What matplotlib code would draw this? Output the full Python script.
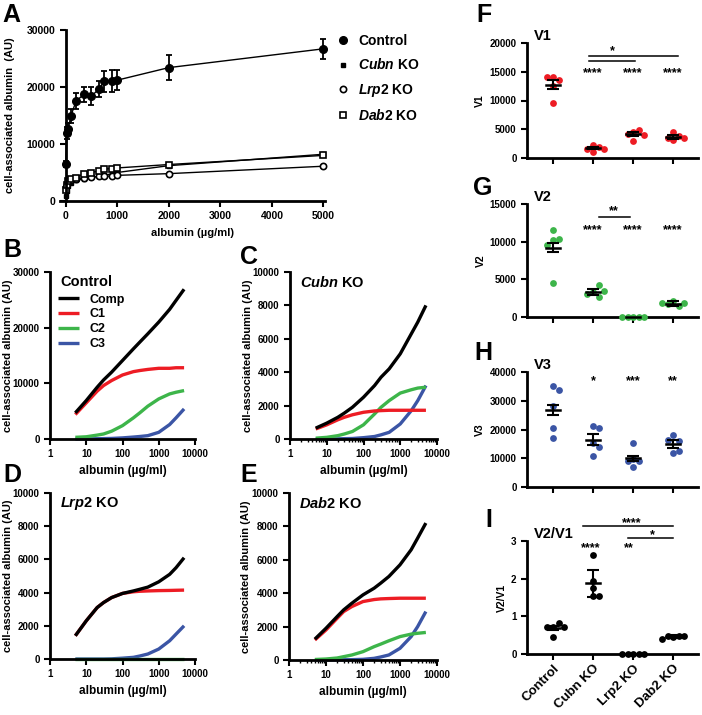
import matplotlib
matplotlib.use("Agg")
import matplotlib.pyplot as plt
import numpy as np
from matplotlib.lines import Line2D

plt.rcParams["font.family"] = ["Liberation Sans", "DejaVu Sans"]
plt.rcParams["font.weight"] = "bold"
plt.rcParams["axes.labelweight"] = "bold"
plt.rcParams["mathtext.fontset"] = "custom"
plt.rcParams["mathtext.rm"] = "Liberation Sans:bold"
plt.rcParams["mathtext.bf"] = "Liberation Sans:bold"
plt.rcParams["mathtext.it"] = "Liberation Sans:bold:italic"

RED, GREEN, BLUE = "#ED1C24", "#3DB54A", "#3B55A5"

# ---- panel A: binding curves ----
CONC = [0, 25, 50, 100, 200, 350, 500, 650, 750, 900, 1000, 2000, 5000]
CTRL = [6500, 11900, 12600, 14900, 17500, 18700, 18400, 19700, 21000, 21100, 21200, 23400, 26700]
CTRL_ERR = [500, 1000, 1100, 1200, 1400, 1300, 1600, 1400, 1800, 1900, 1800, 2200, 1700]
CUBN = [800, 1800, 2600, 3200, 3600, 3900, 4200, 4300, 4500, 4800, 5000, 6200, 8200]
LRP2 = [2500, 3000, 3400, 3600, 3800, 4000, 4200, 4300, 4300, 4400, 4500, 4800, 6100]
DAB2 = [2000, 2800, 3500, 3800, 4100, 4800, 5000, 5300, 5600, 5700, 5800, 6400, 8000]

# ---- panels B-E: fitted components ----
XFIT = [5, 10, 20, 30, 50, 100, 200, 300, 500, 1000, 2000, 3000, 5000]
B_COMP = [4700, 6900, 9300, 10600, 12000, 14100, 16200, 17400, 18900, 21000, 23300, 24900, 26900]
B_C1 = [4400, 6500, 8600, 9600, 10500, 11500, 12100, 12300, 12500, 12700, 12700, 12800, 12800]
B_C2 = [300, 400, 700, 900, 1400, 2400, 3800, 4700, 5900, 7200, 8100, 8400, 8700]
B_C3 = [0, 20, 50, 70, 100, 200, 350, 450, 600, 1200, 2600, 3800, 5400]

C_COMP = [650, 950, 1300, 1550, 1900, 2500, 3200, 3700, 4200, 5100, 6300, 7000, 8000]
C_C1 = [600, 850, 1150, 1300, 1450, 1600, 1680, 1700, 1720, 1720, 1720, 1720, 1720]
C_C2 = [50, 100, 200, 300, 450, 850, 1500, 1900, 2300, 2750, 2950, 3050, 3100]
C_C3 = [0, 0, 10, 20, 30, 80, 150, 250, 400, 900, 1700, 2300, 3200]

D_COMP = [1400, 2300, 3100, 3400, 3700, 3950, 4100, 4200, 4330, 4650, 5100, 5500, 6100]
D_C1 = [1400, 2300, 3100, 3400, 3700, 3950, 4050, 4080, 4100, 4120, 4130, 4140, 4150]
D_C2 = [0, 0, 0, 0, 0, 0, 0, 0, 0, 0, 0, 0, 0]
D_C3 = [0, 0, 0, 0, 10, 50, 100, 180, 300, 600, 1100, 1500, 2000]

E_COMP = [1250, 1900, 2600, 3000, 3400, 3900, 4300, 4600, 5000, 5700, 6600, 7300, 8200]
E_C1 = [1200, 1800, 2500, 2900, 3200, 3500, 3620, 3660, 3680, 3700, 3700, 3700, 3700]
E_C2 = [30, 60, 120, 200, 300, 500, 800, 950, 1150, 1400, 1550, 1600, 1650]
E_C3 = [0, 0, 10, 15, 20, 40, 100, 180, 300, 700, 1400, 2000, 2900]

# ---- panels F-I: kinetic parameters ----
GROUPS = ["Control", "Cubn KO", "Lrp2 KO", "Dab2 KO"]
V1 = [[14100, 13600, 14100, 12500, 9600], [2300, 1100, 1900, 1600, 1600],
      [4600, 4900, 3000, 4100, 4000], [4500, 3900, 3200, 3400, 3400]]
V1_ERR = [800, 200, 350, 300]
V2 = [[11600, 10200, 10300, 9500, 4500], [3300, 2600, 4200, 3100, 3400],
      [0, 0, 0, 0, 0], [2100, 1450, 1700, 1900, 1800]]
V2_ERR = [600, 400, 0, 350]
V3 = [[35100, 33600, 28100, 20500, 17200], [21300, 20600, 15400, 13900, 10800],
      [9600, 15200, 8900, 7000, 9000], [18000, 16000, 16300, 11700, 12500]]
V3_ERR = [1750, 1900, 1000, 1400]
RATIO = [[0.72, 0.83, 0.72, 0.45, 0.72], [2.62, 1.94, 1.76, 1.54, 1.54],
         [0, 0, 0, 0, 0], [0.45, 0.47, 0.48, 0.47, 0.40]]
RATIO_ERR = [0.06, 0.36, 0, 0.04]

W, H = 702, 715
fig = plt.figure(figsize=(W / 100, H / 100), dpi=100)


def rect(left, right, top, bottom):
    return [left / W, 1 - bottom / H, (right - left) / W, (bottom - top) / H]


def style(ax, fs=7):
    for s in ("top", "right"):
        ax.spines[s].set_visible(False)
    for s in ("left", "bottom"):
        ax.spines[s].set_linewidth(2.0)
    ax.tick_params(width=1.5, length=4, labelsize=fs, direction="out")


def letter(x, y, s, ha="left"):
    fig.text(x / W, 1 - y / H, s, fontsize=18, fontweight="bold", ha=ha, va="top")


# ---------------- A ----------------
axA = fig.add_axes(rect(60, 325, 30, 201))
style(axA, 7.5)
axA.errorbar(CONC, CTRL, yerr=CTRL_ERR, fmt="-o", color="k", ms=5.5, lw=1,
             capsize=2.5, elinewidth=1.3, capthick=1.3, clip_on=False, zorder=4)
axA.plot(CONC, CUBN, "-s", color="k", ms=3.5, lw=1, clip_on=False)
axA.plot(CONC, LRP2, "-o", color="k", mfc="white", ms=4.5, mew=1.2, lw=1, clip_on=False)
axA.plot(CONC, DAB2, "-s", color="k", mfc="white", ms=4.5, mew=1.2, lw=1, clip_on=False)
axA.set_xlim(-110, 5030)
axA.set_ylim(0, 30000)
axA.spines["left"].set_position(("data", 0))
axA.spines["left"].set_bounds(0, 30000)
axA.set_xticks(range(0, 5001, 1000))
axA.set_yticks([0, 10000, 20000, 30000])
axA.set_ylabel("cell-associated albumin  (AU)", fontsize=8)
axA.yaxis.set_label_coords(-0.17, 0.5)
axA.set_xlabel("albumin (µg/ml)", fontsize=8)
axA.xaxis.set_label_coords(0.5, -0.16)
handles = [
    Line2D([], [], ls="none", marker="o", color="k", ms=5.5),
    Line2D([], [], ls="none", marker="s", color="k", ms=3.5),
    Line2D([], [], ls="none", marker="o", color="k", mfc="white", ms=4.5, mew=1.2),
    Line2D([], [], ls="none", marker="s", color="k", mfc="white", ms=4.5, mew=1.2),
]
labels = ["Control", r"$\it{Cubn}$ KO", r"$\it{Lrp2}$ KO", r"$\it{Dab2}$ KO"]
fig.legend(handles, labels, loc="upper left", bbox_to_anchor=(336 / W, 1 - 34 / H),
           frameon=False, fontsize=10, handlelength=1, handletextpad=0.6,
           labelspacing=0.68, borderpad=0, borderaxespad=0)
letter(2, 3, "A")


# ---------------- B-E ----------------
def curve_panel(r, comp, c1, c2, c3, title, ymax, ystep, show_legend=False):
    ax = fig.add_axes(r)
    style(ax, 7)
    lines = []
    for vals, col in ((c3, BLUE), (c2, GREEN), (c1, RED), (comp, "k")):
        ln, = ax.plot(XFIT, vals, color=col, lw=2.4, solid_capstyle="butt",
                      solid_joinstyle="round", clip_on=False)
        lines.append(ln)
    ax.set_xscale("log")
    ax.set_xlim(1, 10000)
    ax.set_ylim(0, ymax)
    ax.set_xticks([1, 10, 100, 1000, 10000])
    ax.set_xticklabels(["1", "10", "100", "1000", "10000"])
    ax.tick_params(axis="x", which="minor", length=2.5, width=1)
    ax.set_yticks(np.arange(0, ymax + 1, ystep))
    ax.set_ylabel("cell-associated albumin (AU)", fontsize=8)
    ax.yaxis.set_label_coords(-0.255, 0.5)
    ax.set_xlabel("albumin (µg/ml)", fontsize=8.5, labelpad=4)
    ax.text(0.07, 0.985, title, transform=ax.transAxes, fontsize=10.5,
            fontweight="bold", va="top", ha="left")
    if show_legend:
        ax.legend(lines[::-1], ["Comp", "C1", "C2", "C3"], loc="upper left",
                  bbox_to_anchor=(0.055, 0.87), frameon=False, fontsize=9,
                  handlelength=1.7, handletextpad=0.8, labelspacing=0.22,
                  borderpad=0, borderaxespad=0)
    return ax


curve_panel(rect(50, 195, 272, 439), B_COMP, B_C1, B_C2, B_C3, "Control", 30000, 10000, True)
curve_panel(rect(290, 437, 272, 439), C_COMP, C_C1, C_C2, C_C3, r"$\it{Cubn}$ KO", 10000, 2000)
curve_panel(rect(50, 195, 493, 659), D_COMP, D_C1, D_C2, D_C3, r"$\it{Lrp2}$ KO", 10000, 2000)
curve_panel(rect(289, 437, 493, 660), E_COMP, E_C1, E_C2, E_C3, r"$\it{Dab2}$ KO", 10000, 2000)
letter(3, 238, "B")
letter(240, 245, "C")
letter(3, 463, "D")
letter(240, 463, "E")


# ---------------- F-I ----------------
def swarm(vals, span, step):
    offs, placed = [], []
    for v in vals:
        for k in (0, 1, -1, 2, -2, 3, -3):
            o = k * step
            if all(abs(o - po) > step * 0.9 or abs(v - pv) > span for po, pv in placed):
                break
        placed.append((o, v))
        offs.append(o)
    return offs


def dot_panel(r, groups, errs, color, ymax, ystep, name, span):
    ax = fig.add_axes(r)
    style(ax, 7)
    for i, (vals, err) in enumerate(zip(groups, errs)):
        offs = swarm(vals, span, 0.14)
        ax.scatter([i + o for o in offs], vals, s=24, color=color, lw=0, zorder=3, clip_on=False)
        m = np.mean(vals)
        ax.plot([i - 0.18, i + 0.18], [m, m], color="k", lw=1.8, zorder=4, clip_on=False)
        if err > 0:
            ax.errorbar(i, m, yerr=err, fmt="none", ecolor="k", elinewidth=1.5,
                        capsize=4.5, capthick=1.5, zorder=4, clip_on=False)
    ax.set_xlim(-0.65, 3.62)
    ax.set_ylim(0, ymax)
    ax.set_xticks(range(4))
    ax.set_xticklabels([])
    ax.set_yticks(np.arange(0, ymax + ystep / 2, ystep))
    ax.set_ylabel(name, fontsize=7.5, labelpad=3)
    ax.text(0.04, 1.0, name, transform=ax.transAxes, fontsize=10.5,
            fontweight="bold", va="bottom", ha="left")
    return ax


def star(ax, x, y, s):
    ax.text(x, y, s, ha="center", va="center", fontsize=9, fontweight="bold", clip_on=False)


def bar(ax, x0, x1, y):
    ax.plot([x0, x1], [y, y], color="k", lw=1.1, clip_on=False)


axF = dot_panel(rect(527, 698, 43, 158), V1, V1_ERR, RED, 20000, 5000, "V1", 900)
for i in (1, 2, 3):
    star(axF, i, 14700, "****")
bar(axF, 0.9, 3.13, 17700)
bar(axF, 0.9, 2.05, 16900)
star(axF, 1.48, 18500, "*")

axG = dot_panel(rect(527, 698, 204, 317), V2, V2_ERR, GREEN, 15000, 5000, "V2", 900)
for i in (1, 2, 3):
    star(axG, i, 11500, "****")
bar(axG, 1.15, 1.92, 13300)
star(axG, 1.52, 14000, "**")

axH = dot_panel(rect(527, 698, 372, 487), V3, V3_ERR, BLUE, 40000, 10000, "V3", 2400)
star(axH, 1, 36800, "*")
star(axH, 2, 36800, "***")
star(axH, 3, 36800, "**")

axI = dot_panel(rect(527, 698, 541, 654), RATIO, RATIO_ERR, "k", 3, 1, "V2/V1", 0.15)
star(axI, 0.93, 2.82, "****")
star(axI, 1.9, 2.82, "**")
bar(axI, 0.75, 3.0, 3.39)
star(axI, 1.96, 3.47, "****")
bar(axI, 1.88, 3.0, 3.07)
star(axI, 2.48, 3.15, "*")
axI.set_xticklabels(GROUPS, rotation=45, ha="right", rotation_mode="anchor", fontsize=9.5)
axI.tick_params(axis="x", pad=2)

letter(492, 3, "F", ha="right")
letter(492, 176, "G", ha="right")
letter(492, 341, "H", ha="right")
letter(492, 508, "I", ha="right")

fig.savefig("out.png", dpi=100, facecolor="white")
